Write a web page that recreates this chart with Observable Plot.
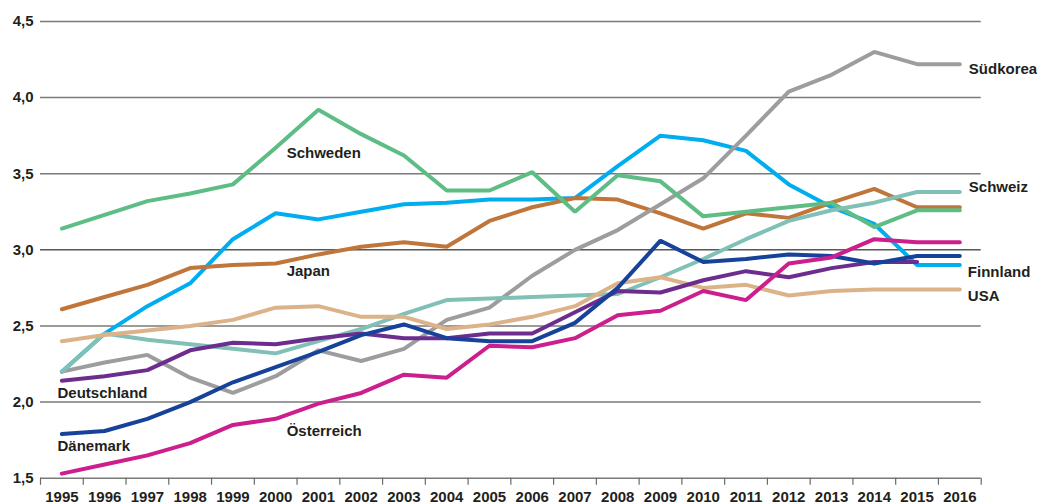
<!DOCTYPE html>
<html>
<head>
<meta charset="utf-8">
<script src="https://cdn.jsdelivr.net/npm/d3@7"></script>
<script src="https://cdn.jsdelivr.net/npm/@observablehq/plot@0.6"></script>
<style>
  html, body { margin: 0; padding: 0; background: #fff; }
  #chart svg { display: block; }
</style>
</head>
<body>
<div id="chart"></div>
<script>
const years = [1995,1996,1997,1998,1999,2000,2001,2002,2003,2004,2005,2006,2007,2008,2009,2010,2011,2012,2013,2014,2015,2016];
const yTicks = [1.5, 2.0, 2.5, 3.0, 3.5, 4.0, 4.5];

const finnland    = [2.20,2.45,2.63,2.78,3.07,3.24,3.20,3.25,3.30,3.31,3.33,3.33,3.34,3.55,3.75,3.72,3.65,3.43,3.28,3.17,2.90,2.90];
const japan       = [2.61,2.69,2.77,2.88,2.90,2.91,2.97,3.02,3.05,3.02,3.19,3.28,3.34,3.33,3.24,3.14,3.24,3.21,3.31,3.40,3.28,3.28];
const suedkorea   = [2.20,2.26,2.31,2.16,2.06,2.17,2.34,2.27,2.35,2.54,2.62,2.83,3.00,3.13,3.30,3.47,3.75,4.04,4.15,4.30,4.22,4.22];
const schweden    = [3.14,3.23,3.32,3.37,3.43,3.67,3.92,3.76,3.62,3.39,3.39,3.51,3.25,3.49,3.45,3.22,3.25,3.28,3.31,3.15,3.26,3.26];
const schweiz     = [2.20,2.45,2.41,2.38,2.35,2.32,2.40,2.48,2.58,2.67,2.68,2.69,2.70,2.71,2.82,2.94,3.07,3.19,3.26,3.31,3.38,3.38];
const usa         = [2.40,2.44,2.47,2.50,2.54,2.62,2.63,2.56,2.56,2.48,2.51,2.56,2.63,2.78,2.82,2.75,2.77,2.70,2.73,2.74,2.74,2.74];
const deutschland = [2.14,2.17,2.21,2.34,2.39,2.38,2.42,2.45,2.42,2.42,2.45,2.45,2.59,2.73,2.72,2.80,2.86,2.82,2.88,2.92,2.92];
const daenemark   = [1.79,1.81,1.89,2.00,2.13,2.23,2.33,2.44,2.51,2.42,2.40,2.40,2.52,2.75,3.06,2.92,2.94,2.97,2.96,2.91,2.96,2.96];
const oesterreich = [1.53,1.59,1.65,1.73,1.85,1.89,1.99,2.06,2.18,2.16,2.37,2.36,2.42,2.57,2.60,2.73,2.67,2.91,2.95,3.07,3.05,3.05];

// draw order (bottom to top)
const countries = ["Finnland","Japan","Südkorea","Schweden","Schweiz","USA","Deutschland","Dänemark","Österreich"];
const seriesValues = [finnland, japan, suedkorea, schweden, schweiz, usa, deutschland, daenemark, oesterreich];
const colors = ["#00aeef","#c0753a","#9d9d9f","#5ebd85","#80c0b6","#dcb388","#6d2d8f","#17429a","#cc1e8c"];

const rows = [];
countries.forEach((c, i) => {
  seriesValues[i].forEach((v, j) => rows.push({country: c, year: years[j], value: v}));
});

// label anchors: country + year of the point the label sits next to; offsets are pixel styling
const labelStyle = [
  {country: "Südkorea",    year: 2016, dx: 9,  dy: 5},
  {country: "Schweiz",     year: 2016, dx: 9,  dy: -4.6},
  {country: "Finnland",    year: 2016, dx: 8,  dy: 6.7},
  {country: "USA",         year: 2016, dx: 8,  dy: 6.3},
  {country: "Schweden",    year: 2000, dx: 11, dy: 5.2},
  {country: "Japan",       year: 2000, dx: 11, dy: 7.9},
  {country: "Österreich",  year: 2000, dx: 11, dy: 12},
  {country: "Deutschland", year: 1995, dx: -4.4, dy: 12.5},
  {country: "Dänemark",    year: 1995, dx: -4.4, dy: 12.4}
];
const labelRows = labelStyle.map(l => {
  const r = rows.find(d => d.country === l.country && d.year === l.year);
  return {...l, value: r.value};
});

const halfYears = years.map(y => y - 0.5).concat([years[years.length - 1] + 0.5]);
const gridVals = yTicks.filter(v => v !== 3.0);

const font = "'Liberation Sans', Arial, Helvetica, sans-serif";
const ink = "#231f20";

const marks = [
  Plot.ruleY(gridVals, {x1: halfYears[0], x2: halfYears[halfYears.length - 1], stroke: "#7a7a7a", strokeWidth: 1.5}),
  Plot.ruleY([3.0], {x1: halfYears[0], x2: halfYears[halfYears.length - 1], stroke: "#000", strokeWidth: 1}),
  Plot.axisY({ticks: yTicks, tickSize: 0, tickPadding: 7, label: null, tickFormat: d => d.toFixed(1).replace(".", ","), fill: ink, fontWeight: "bold", fontSize: 15}),
  Plot.axisX({ticks: halfYears, tickSize: 7, label: null, tickFormat: () => "", stroke: "#6a6a6a", strokeWidth: 1.2}),
  Plot.axisX({ticks: years, tickSize: 0, tickPadding: 13, label: null, tickFormat: d => String(d), fill: ink, fontWeight: "bold", fontSize: 15}),
  Plot.line(rows, {x: "year", y: "value", z: "country", stroke: "country", strokeWidth: 4, strokeLinecap: "round", strokeLinejoin: "miter"})
];

labelRows.forEach(l => {
  marks.push(Plot.text([l], {x: "year", y: "value", text: "country", dx: l.dx, dy: l.dy, textAnchor: "start", lineAnchor: "middle", fill: ink, fontWeight: "bold", fontSize: 15}));
});

const chart = Plot.plot({
  width: 1037,
  height: 504,
  marginLeft: 40,
  marginRight: 56.3,
  marginTop: 21,
  marginBottom: 26.3,
  style: {fontFamily: font, background: "#fff", overflow: "visible"},
  x: {domain: [halfYears[0], halfYears[halfYears.length - 1]], label: null},
  y: {domain: [yTicks[0], yTicks[yTicks.length - 1]], label: null},
  color: {domain: countries, range: colors},
  marks
});
document.getElementById("chart").appendChild(chart);
</script>
</body>
</html>
